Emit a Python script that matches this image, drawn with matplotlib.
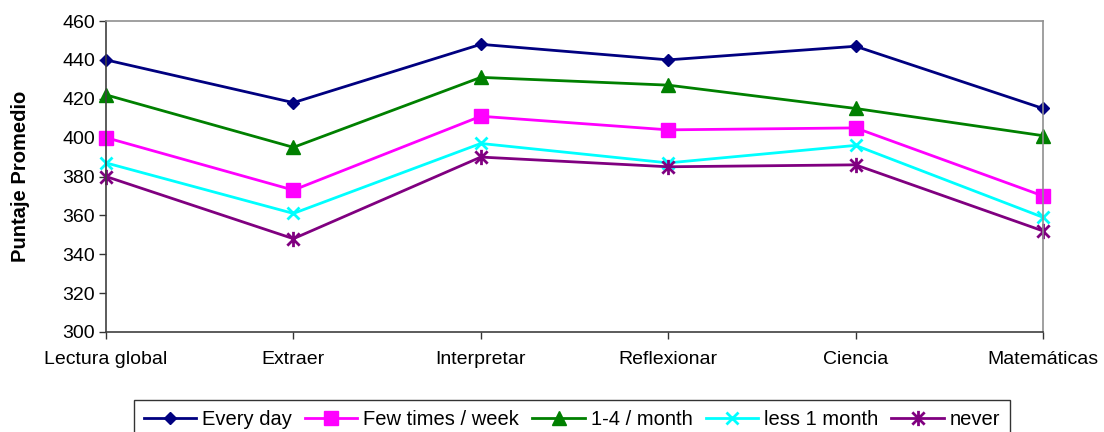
import matplotlib
matplotlib.use("Agg")
import matplotlib.pyplot as plt
from matplotlib.path import Path

plt.rcParams['font.family'] = ['Liberation Sans', 'DejaVu Sans']

categories = ["Lectura global", "Extraer", "Interpretar", "Reflexionar", "Ciencia", "Matemáticas"]

every_day = [440, 418, 448, 440, 447, 415]
few_times_week = [400, 373, 411, 404, 405, 370]
one_four_month = [422, 395, 431, 427, 415, 401]
less_1_month = [387, 361, 397, 387, 396, 359]
never = [380, 348, 390, 385, 386, 352]

series_names = ["Every day", "Few times / week", "1-4 / month", "less 1 month", "never"]
yticks = list(range(300, 461, 20))

# asterisk marker: two diagonals plus a vertical stroke
asterisk = Path(
    [(-0.5, -0.5), (0.5, 0.5), (-0.5, 0.5), (0.5, -0.5), (0, -0.62), (0, 0.62)],
    [Path.MOVETO, Path.LINETO, Path.MOVETO, Path.LINETO, Path.MOVETO, Path.LINETO],
)

styles = [
    dict(color="#000080", marker="D", markersize=6.5),
    dict(color="#FF00FF", marker="s", markersize=10),
    dict(color="#008000", marker="^", markersize=9.5),
    dict(color="#00FFFF", marker="x", markersize=9, markeredgewidth=2),
    dict(color="#800080", marker=asterisk, markersize=11, markeredgewidth=2, markerfacecolor="none"),
]
data = [every_day, few_times_week, one_four_month, less_1_month, never]

fig = plt.figure(figsize=(11.04, 4.32), dpi=100)
ax = fig.add_axes([106 / 1104, 1 - 332 / 432, (1043 - 106) / 1104, (332 - 21) / 432])

x = list(range(len(categories)))
handles = []
for name, vals, st in zip(series_names, data, styles):
    (h,) = ax.plot(x, vals, linewidth=2, label=name, clip_on=False, **st)
    handles.append(h)

ax.set_xlim(0, len(categories) - 1)
ax.set_ylim(300, 460)
ax.set_yticks(yticks)
ax.set_xticks(x)
ax.set_xticklabels(categories)
ax.tick_params(axis="both", direction="out", length=5, width=1, labelsize=14, colors="#333333", labelcolor="black")
ax.tick_params(axis="x", pad=9)
ax.tick_params(axis="y", pad=3)

for side in ("left", "bottom"):
    ax.spines[side].set_color("#404040")
    ax.spines[side].set_linewidth(1.2)
for side in ("top", "right"):
    ax.spines[side].set_color("#909090")
    ax.spines[side].set_linewidth(1.2)

ax.set_ylabel("Puntaje Promedio", fontsize=14.5, fontweight="bold", labelpad=23)

leg = fig.legend(
    handles, series_names, loc="upper center", bbox_to_anchor=(572 / 1104, 1 - 400 / 432),
    ncol=5, fontsize=14.5, frameon=True, fancybox=False, edgecolor="black",
    handlelength=2.6, handletextpad=0.3, columnspacing=0.65, borderpad=0.5, borderaxespad=0,
)
leg.get_frame().set_linewidth(1)

fig.savefig("out.png", dpi=100)
